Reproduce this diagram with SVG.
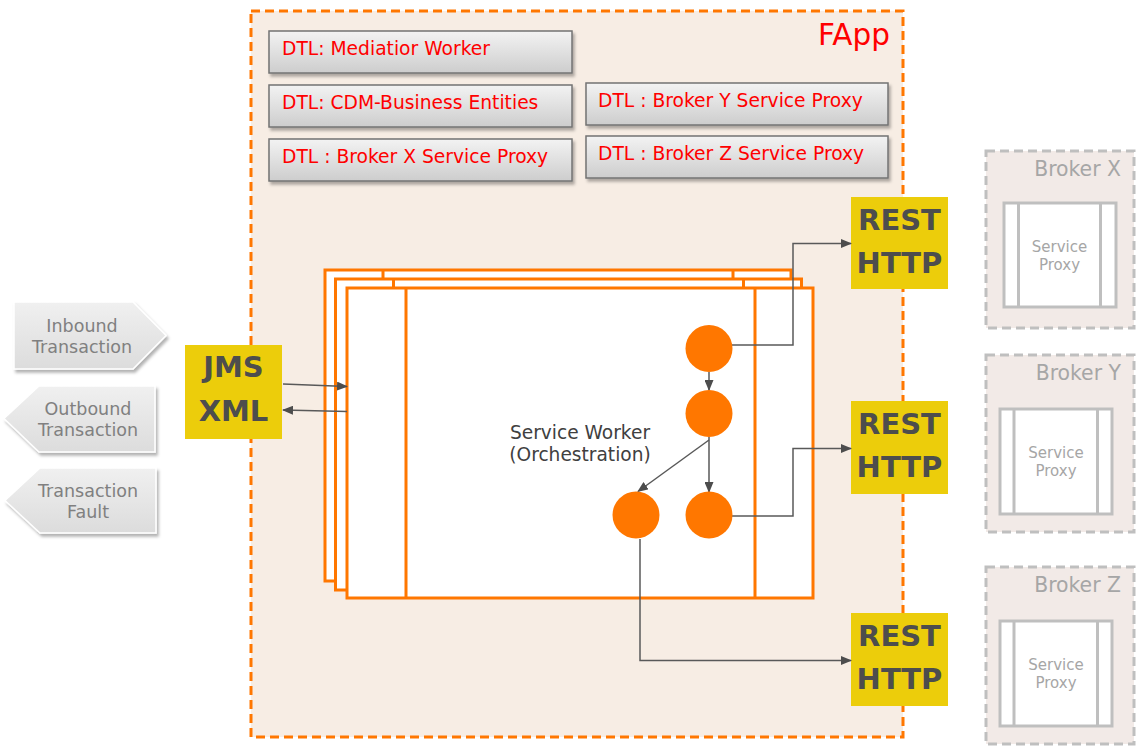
<svg xmlns="http://www.w3.org/2000/svg" width="1142" height="755" viewBox="0 0 1142 755">
<defs>
<linearGradient id="gDtl" x1="0" y1="0" x2="0" y2="1">
<stop offset="0" stop-color="#F3F3F3"/><stop offset="1" stop-color="#CDCDCD"/>
</linearGradient>
<linearGradient id="gTag" x1="0" y1="0" x2="0" y2="1">
<stop offset="0" stop-color="#F0F0F0"/><stop offset="1" stop-color="#DCDCDC"/>
</linearGradient>
<filter id="sh" x="-10%" y="-10%" width="130%" height="140%">
<feDropShadow dx="2" dy="3" stdDeviation="1.5" flood-color="#000" flood-opacity="0.3"/>
</filter>
<marker id="arr" markerUnits="userSpaceOnUse" markerWidth="11" markerHeight="9" refX="10" refY="4.5" orient="auto">
<path d="M0,0 L11,4.5 L0,9 z" fill="#4D4D4D"/>
</marker>
<style>
.dtl{fill:url(#gDtl);stroke:#737373;stroke-width:1.5;filter:url(#sh)}
.dtlt{font-family:"DejaVu Sans",Verdana,sans-serif;font-size:18.7px;fill:#FF0000}
.tag{fill:url(#gTag);stroke:#FFFFFF;stroke-width:1.5;filter:url(#sh)}
.tagt{font-family:"DejaVu Sans",Verdana,sans-serif;font-size:17.5px;fill:#808080;text-anchor:middle}
.yel{fill:#ECCD0B}
.yt{font-family:"DejaVu Sans",Verdana,sans-serif;font-weight:bold;font-size:29px;fill:#4D4D4D;text-anchor:middle}
.wk{fill:#FFFFFF;stroke:#FF7700;stroke-width:3}
.wl{stroke:#FF7700;stroke-width:3}
.dot{fill:#FF7700}
.con{fill:none;stroke:#595959;stroke-width:1.5;marker-end:url(#arr)}
.brk{fill:#F2EAE7;stroke:#BFBFBF;stroke-width:3;stroke-dasharray:9 5}
.sp{fill:#FFFFFF;stroke:#BFBFBF;stroke-width:3}
.brt{font-family:"DejaVu Sans",Verdana,sans-serif;font-size:20.4px;fill:#A6A6A6;text-anchor:end}
.spt{font-family:"DejaVu Sans",Verdana,sans-serif;font-size:15px;fill:#A6A6A6;text-anchor:middle}
.swt{font-family:"DejaVu Sans",Verdana,sans-serif;font-size:18.6px;fill:#404040;text-anchor:middle}
</style>
</defs>
<rect width="1142" height="755" fill="#FFFFFF"/>

<g id="fapp">
<rect x="251" y="11" width="652" height="726" fill="#F7EDE4" stroke="#FF7700" stroke-width="3" stroke-dasharray="9 5"/>
<text x="890" y="45" font-family="DejaVu Sans,Verdana,sans-serif" font-size="29.5px" fill="#FF0000" text-anchor="end">FApp</text>
</g>

<g id="dtl-mediator"><rect class="dtl" x="269" y="31" width="303" height="42"/><text class="dtlt" x="282" y="55">DTL: Mediatior Worker</text></g>
<g id="dtl-cdm"><rect class="dtl" x="269" y="85" width="303" height="42"/><text class="dtlt" x="282" y="109">DTL: CDM-Business Entities</text></g>
<g id="dtl-brokerx"><rect class="dtl" x="269" y="139" width="303" height="42"/><text class="dtlt" x="282" y="163">DTL : Broker X Service Proxy</text></g>
<g id="dtl-brokery"><rect class="dtl" x="586" y="83" width="302" height="42"/><text class="dtlt" x="598" y="107">DTL : Broker Y Service Proxy</text></g>
<g id="dtl-brokerz"><rect class="dtl" x="586" y="136" width="302" height="42"/><text class="dtlt" x="598" y="160">DTL : Broker Z Service Proxy</text></g>

<g id="inbound"><path class="tag" d="M14,302 H133 L166,335.5 L133,369 H14 Z"/><text class="tagt" x="82" y="332">Inbound</text><text class="tagt" x="82" y="353">Transaction</text></g>
<g id="outbound"><path class="tag" d="M4,418.5 L39,386 H155 V452 H39 Z"/><text class="tagt" x="88" y="415">Outbound</text><text class="tagt" x="88" y="436">Transaction</text></g>
<g id="fault"><path class="tag" d="M5,500.5 L40,468 H156 V533 H40 Z"/><text class="tagt" x="88" y="497">Transaction</text><text class="tagt" x="88" y="518">Fault</text></g>

<g id="jms"><rect class="yel" x="185" y="345" width="97" height="94"/><text class="yt" x="233.5" y="377" font-size="30px">JMS</text><text class="yt" x="233.5" y="421" font-size="30px">XML</text></g>

<g id="service-worker">
<rect class="wk" x="325" y="270" width="466" height="311"/>
<line class="wl" x1="383" y1="270" x2="383" y2="581"/><line class="wl" x1="733" y1="270" x2="733" y2="581"/>
<rect class="wk" x="335.5" y="279" width="466" height="311"/>
<line class="wl" x1="393.5" y1="279" x2="393.5" y2="590"/><line class="wl" x1="743.5" y1="279" x2="743.5" y2="590"/>
<rect class="wk" x="347" y="288" width="466" height="310"/>
<line class="wl" x1="406" y1="288" x2="406" y2="598"/><line class="wl" x1="755" y1="288" x2="755" y2="598"/>
<text class="swt" x="580" y="439">Service Worker</text>
<text class="swt" x="580" y="461">(Orchestration)</text>
</g>

<g id="rest1"><rect class="yel" x="851" y="197" width="97" height="92"/><text class="yt" x="899.5" y="229.5">REST</text><text class="yt" x="899.5" y="272.5">HTTP</text></g>
<g id="rest2"><rect class="yel" x="851" y="401" width="97" height="93"/><text class="yt" x="899.5" y="433.5">REST</text><text class="yt" x="899.5" y="476.5">HTTP</text></g>
<g id="rest3"><rect class="yel" x="851" y="613" width="97" height="93"/><text class="yt" x="899.5" y="646">REST</text><text class="yt" x="899.5" y="689">HTTP</text></g>

<g id="connectors">
<path class="con" d="M283,384 L347,386.5"/>
<path class="con" d="M347,411.5 L283,410"/>
<path class="con" d="M732,345 H793 V243.5 H851"/>
<path class="con" d="M709,372 V390"/>
<path class="con" d="M709,437 V492"/>
<path class="con" d="M709,440 L638,491.5"/>
<path class="con" d="M732,516 H793 V448.5 H851"/>
<path class="con" d="M640,539 V660.5 H851"/>
</g>

<g id="step1"><circle class="dot" cx="709" cy="348.5" r="23.5"/></g>
<g id="step2"><circle class="dot" cx="709" cy="413.5" r="23.5"/></g>
<g id="step3"><circle class="dot" cx="709" cy="515" r="23.5"/></g>
<g id="step4"><circle class="dot" cx="636" cy="515" r="23.5"/></g>

<g id="broker-x">
<rect class="brk" x="986" y="151" width="148" height="177"/>
<text class="brt" x="1121" y="176">Broker X</text>
<rect class="sp" x="1004" y="203" width="112" height="104"/>
<line class="sp" x1="1018.5" y1="203" x2="1018.5" y2="307"/><line class="sp" x1="1100.5" y1="203" x2="1100.5" y2="307"/>
<text class="spt" x="1059.5" y="252">Service</text><text class="spt" x="1059.5" y="270">Proxy</text>
</g>
<g id="broker-y">
<rect class="brk" x="986" y="355" width="148" height="177"/>
<text class="brt" x="1121" y="380">Broker Y</text>
<rect class="sp" x="1000" y="409" width="112" height="105"/>
<line class="sp" x1="1014" y1="409" x2="1014" y2="514"/><line class="sp" x1="1097.5" y1="409" x2="1097.5" y2="514"/>
<text class="spt" x="1056" y="458">Service</text><text class="spt" x="1056" y="476">Proxy</text>
</g>
<g id="broker-z">
<rect class="brk" x="986" y="567" width="148" height="177"/>
<text class="brt" x="1121" y="592">Broker Z</text>
<rect class="sp" x="1000" y="621" width="112" height="105"/>
<line class="sp" x1="1014" y1="621" x2="1014" y2="726"/><line class="sp" x1="1097.5" y1="621" x2="1097.5" y2="726"/>
<text class="spt" x="1056" y="670">Service</text><text class="spt" x="1056" y="688">Proxy</text>
</g>
</svg>
